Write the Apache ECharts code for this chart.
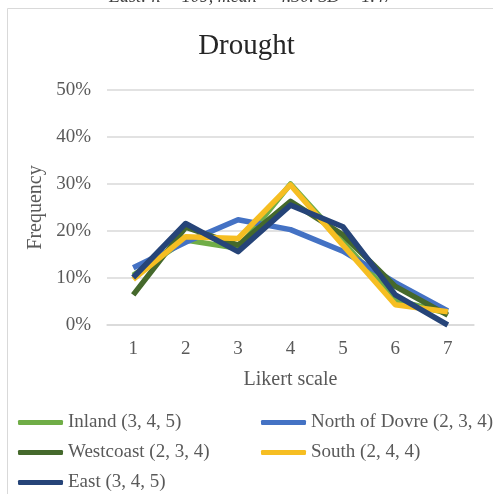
<!DOCTYPE html>
<html>
<head>
<meta charset="utf-8">
<script src="https://cdn.jsdelivr.net/npm/echarts@6/dist/echarts.min.js"></script>
<style>
  html, body { margin: 0; padding: 0; background: #fff; }
  #chart { width: 493px; height: 494px; }
</style>
</head>
<body>
<div id="chart"></div>
<script>
// Likert scale points (x axis)
var categories = ['1', '2', '3', '4', '5', '6', '7'];

// Frequency (%) of each answer per region
var inland      = [10.6, 18.1, 16.3, 30.0, 17.7, 5.3, 2.5];
var northDovre  = [12.2, 17.6, 22.4, 20.3, 15.7, 9.0, 3.0];
var westcoast   = [6.4, 20.8, 17.0, 26.3, 19.2, 8.2, 2.1];
var south       = [9.7, 18.8, 18.4, 29.8, 17.0, 4.3, 2.8];
var east        = [10.1, 21.6, 15.6, 25.5, 20.9, 6.4, 0.0];

// Series names (quartiles in brackets)
var names = [
  'Inland (3, 4, 5)',
  'North of Dovre (2, 3, 4)',
  'Westcoast (2, 3, 4)',
  'South (2, 4, 4)',
  'East (3, 4, 5)'
];
var values = [inland, northDovre, westcoast, south, east];
var colors = ['#70AD47', '#4472C4', '#45692C', '#F6BE22', '#264478'];

var serif = '"Liberation Serif", "Times New Roman", serif';
var textGrey = '#595959';

var chart = echarts.init(document.getElementById('chart'), null, { renderer: 'canvas' });

var series = names.map(function (n, i) {
  return {
    name: n,
    type: 'line',
    data: values[i],
    symbol: 'none',
    color: colors[i],
    lineStyle: { width: 5.5, color: colors[i], join: 'round' },
    z: 2 + i
  };
});

var legendText = { fontFamily: serif, fontSize: 19, color: textGrey, lineHeight: 21 };

chart.setOption({
  animation: false,
  backgroundColor: '#ffffff',
  graphic: [
    {
      type: 'rect',
      shape: { x: 7.5, y: 8.5, width: 600, height: 600 },
      style: { fill: 'none', stroke: '#d9d9d9', lineWidth: 1 },
      silent: true
    },
    {
      type: 'text',
      x: 251,
      y: 6,
      style: {
        text: 'East: n = 109, mean = 4.30. SD = 1.47',
        font: 'italic 18px ' + serif,
        fill: '#404040',
        textAlign: 'center',
        textVerticalAlign: 'bottom'
      },
      silent: true
    }
  ],
  title: {
    text: 'Drought',
    left: 'center',
    top: 27,
    textStyle: {
      fontFamily: serif,
      fontSize: 29,
      fontWeight: 'normal',
      color: '#262626'
    }
  },
  legend: [
    {
      orient: 'vertical',
      left: 18,
      top: 412,
      padding: 0,
      height: 90,
      icon: 'roundRect',
      itemWidth: 45,
      itemHeight: 5,
      itemGap: 9,
      data: [names[0], names[2], names[4]],
      textStyle: legendText
    },
    {
      orient: 'vertical',
      left: 261,
      top: 412,
      padding: 0,
      height: 90,
      icon: 'roundRect',
      itemWidth: 45,
      itemHeight: 5,
      itemGap: 9,
      data: [names[1], names[3]],
      textStyle: legendText
    }
  ],
  grid: {
    left: 107,
    right: 19,
    top: 90,
    bottom: 169,
    containLabel: false
  },
  xAxis: {
    type: 'category',
    data: categories,
    boundaryGap: true,
    name: 'Likert scale',
    nameLocation: 'middle',
    nameGap: 45,
    nameTextStyle: { fontFamily: serif, fontSize: 20, color: textGrey },
    axisLine: { show: true, lineStyle: { color: '#d9d9d9', width: 1.5 } },
    axisTick: { show: false },
    axisLabel: { fontFamily: serif, fontSize: 19, color: textGrey, margin: 15 }
  },
  yAxis: {
    type: 'value',
    min: 0,
    max: 50,
    interval: 10,
    name: 'Frequency',
    nameLocation: 'middle',
    nameGap: 58,
    nameRotate: 90,
    nameTextStyle: { fontFamily: serif, fontSize: 20, color: textGrey },
    axisLine: { show: false },
    axisTick: { show: false },
    axisLabel: {
      formatter: '{value}%',
      fontFamily: serif,
      fontSize: 19,
      color: textGrey,
      margin: 16
    },
    splitLine: { lineStyle: { color: '#d9d9d9', width: 1.5 } }
  },
  series: series
});
</script>
</body>
</html>
